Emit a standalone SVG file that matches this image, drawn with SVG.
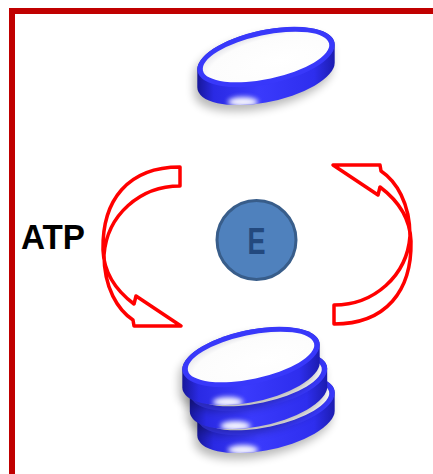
<svg xmlns="http://www.w3.org/2000/svg" width="433" height="474" viewBox="0 0 433 474">
  <style>
    .frame { fill: none; stroke: #C00000; stroke-width: 6; }
    .cycle { fill: #FFFFFF; stroke: #FF0000; stroke-width: 3.5; stroke-linejoin: round; }
    .label { font-family: "Liberation Sans", Arial, sans-serif; font-weight: bold; }
    .rim { fill: #3838FA; }
    .face { fill: url(#faceGrad); }
    .side { fill: url(#sideGrad); }
  </style>
  <defs>
    <linearGradient id="sideGrad" x1="0" y1="0" x2="1" y2="0">
      <stop offset="0" stop-color="#17179A"/>
      <stop offset="0.12" stop-color="#2A2AE4"/>
      <stop offset="0.45" stop-color="#3A3AFC"/>
      <stop offset="0.85" stop-color="#2E2EEE"/>
      <stop offset="1" stop-color="#1C1CB0"/>
    </linearGradient>
    <radialGradient id="faceGrad" cx="0.6" cy="0.65" r="0.75">
      <stop offset="0" stop-color="#FFFFFF"/>
      <stop offset="0.75" stop-color="#FCFCFC"/>
      <stop offset="1" stop-color="#DADAE2"/>
    </radialGradient>
    <filter id="softShadow" x="-30%" y="-50%" width="160%" height="200%">
      <feGaussianBlur stdDeviation="5"/>
    </filter>
    <filter id="glint" x="-50%" y="-100%" width="200%" height="300%">
      <feGaussianBlur stdDeviation="2.5"/>
    </filter>
    <clipPath id="sideClip">
      <path d="M68.7,-12.35 A70 27 -12 0 0 -68.7,12.35 L-68.7,30.35 A70 27 -12 0 0 68.7,5.65 Z"/>
    </clipPath>
    <!-- one coin-like disc, face centred on the origin -->
    <g id="disc">
      <path d="M68.7,-12.35 A70 27 -12 0 0 -68.7,12.35 L-68.7,30.35 A70 27 -12 0 0 68.7,5.65 Z"
            fill="#000" opacity="0.28" transform="translate(-3,6)" filter="url(#softShadow)"/>
      <path class="side" d="M68.7,-12.35 A70 27 -12 0 0 -68.7,12.35 L-68.7,30.35 A70 27 -12 0 0 68.7,5.65 Z"/>
      <g clip-path="url(#sideClip)">
        <ellipse cx="-23" cy="45" rx="15" ry="5" fill="#FFFFFF" opacity="0.95" filter="url(#glint)"/>
      </g>
      <ellipse class="rim" rx="70" ry="27" transform="rotate(-12)"/>
      <ellipse class="face" rx="64.5" ry="22" transform="rotate(-12)"/>
    </g>
    <!-- curved block arrow, tail at top, head at bottom right -->
    <path id="bentArrow" d="M180,167 C128,167 102,200 103,250 C104,275 118,292 134,304 L136,296 L181,326 L134,326 L133,320 C118,310 104,288 104,255 C107,215 140,186 180,186 Z"/>
  </defs>

  <rect class="frame" x="12" y="11" width="440" height="480"/>

  <g id="connectors">
    <use href="#bentArrow" class="cycle"/>
    <use href="#bentArrow" class="cycle" transform="rotate(180 257 245.5)"/>
  </g>

  <g id="disc-single">
    <use href="#disc" transform="translate(266,57)"/>
  </g>

  <g id="disc-stack">
    <use href="#disc" transform="translate(266,405)"/>
    <use href="#disc" transform="translate(258.5,381)"/>
    <use href="#disc" transform="translate(251,357)"/>
  </g>

  <g id="enzyme">
    <circle cx="256.5" cy="240" r="39.5" fill="#4F81BD" stroke="#385D8A" stroke-width="3"/>
    <text class="label" x="256.5" y="253.5" font-size="36" text-anchor="middle" fill="#23497E" textLength="18" lengthAdjust="spacingAndGlyphs">E</text>
  </g>

  <g id="atp-label">
    <text class="label" x="21" y="249" font-size="35" fill="#000000" textLength="64" lengthAdjust="spacingAndGlyphs">ATP</text>
  </g>
</svg>
